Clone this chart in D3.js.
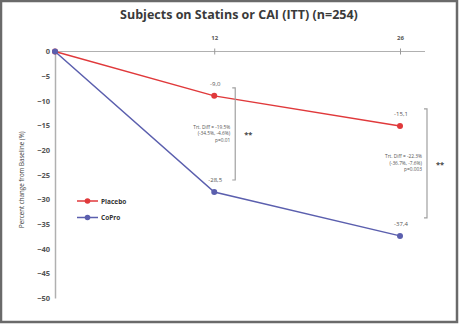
<!DOCTYPE html>
<html lang="en">
  <head>
    <meta charset="UTF-8" />
    <title>Subjects on Statins or CAI (ITT) (n=254)</title>
    <script src="https://d3js.org/d3.v7.min.js"></script>
    <style>
      body { margin: 0; background: #fff; }
      text { font-family: "Open Sans", "DejaVu Sans", sans-serif; }
    </style>
  </head>
  <body>
    <svg id="chart" width="460" height="326"></svg>
    <script>
      // Data
      const weeks = [0, 12, 26];
      const placebo = [0, -9.0, -15.1];
      const copro = [0, -28.5, -37.4];
      const yTicks = [0, -5, -10, -15, -20, -25, -30, -35, -40, -45, -50];
      const diffNotes = [
        ["Trt. Diff = -19.5%", "(-34.5%, -4.6%)", "p=0.01"],
        ["Trt. Diff = -22.3%", "(-36.7%, -7.6%)", "p=0.003"],
      ];

      const series = [
        { name: "Placebo", values: placebo, color: "#e0393b" },
        { name: "CoPro", values: copro, color: "#5b5fae" },
      ];

      const svg = d3.select("#chart");

      // frame
      svg.append("rect")
        .attr("x", 1).attr("y", 1)
        .attr("width", 456).attr("height", 321)
        .attr("fill", "#fff")
        .attr("stroke", "#6a6a6a")
        .attr("stroke-width", 2.5);

      const x = d3.scaleLinear().domain([0, 26]).range([55, 400]);
      const y = d3.scaleLinear().domain([0, -50]).range([51.5, 298]);

      // title
      svg.append("text")
        .attr("x", 239).attr("y", 19)
        .attr("text-anchor", "middle")
        .attr("font-size", 12.5)
        .attr("font-weight", "bold")
        .attr("fill", "#3a3a3a")
        .text("Subjects on Statins or CAI (ITT) (n=254)");

      // y axis
      const yAxis = svg.append("g")
        .attr("transform", `translate(${x(0)},0)`)
        .call(d3.axisLeft(y).tickValues(yTicks).tickSize(0).tickPadding(5));
      yAxis.select(".domain").attr("stroke", "#b0b0b0").attr("stroke-width", 1.5);
      yAxis.selectAll("text")
        .attr("font-size", 7.5)
        .attr("font-weight", "bold")
        .attr("fill", "#555");

      // x axis along the top at y=0
      const xAxis = svg.append("g")
        .attr("transform", `translate(0,${y(0)})`)
        .call(d3.axisTop(x).tickValues([12, 26]).tickSize(3).tickPadding(9).tickSizeOuter(0));
      xAxis.select(".domain").attr("d", `M${x(0)},0H425`).attr("stroke", "#b0b0b0");
      xAxis.selectAll(".tick line").attr("y2", 3).attr("y1", -3).attr("stroke", "#999");
      xAxis.selectAll("text")
        .attr("font-size", 6)
        .attr("font-weight", "bold")
        .attr("fill", "#555");

      // y axis title
      svg.append("text")
        .attr("transform", `translate(24,${y(-26)}) rotate(-90)`)
        .attr("text-anchor", "middle")
        .attr("font-size", 6.2)
        .attr("fill", "#444")
        .text("Percent change  from Baseline (%)");

      // lines and markers
      const line = d3.line()
        .x((d, i) => x(weeks[i]))
        .y((d) => y(d));

      series.forEach((s) => {
        svg.append("path")
          .datum(s.values)
          .attr("fill", "none")
          .attr("stroke", s.color)
          .attr("stroke-width", 1.5)
          .attr("d", line);
        svg.selectAll(null)
          .data(s.values)
          .enter()
          .append("circle")
          .attr("cx", (d, i) => x(weeks[i]))
          .attr("cy", (d) => y(d))
          .attr("r", 3)
          .attr("fill", s.color);
        // value labels
        svg.selectAll(null)
          .data(s.values.slice(1))
          .enter()
          .append("text")
          .attr("x", (d, i) => x(weeks[i + 1]) + 1)
          .attr("y", (d) => y(d) - 10)
          .attr("text-anchor", "middle")
          .attr("font-size", 6)
          .attr("fill", "#555")
          .text((d) => d.toFixed(1).replace(".", ","));
      });

      // brackets with treatment difference notes
      const brackets = [
        { bx: x(12) + 21, top: y(placebo[1]) - 8, bottom: y(copro[1]) - 12, note: diffNotes[0] },
        { bx: x(26) + 27, top: y(placebo[2]) - 17, bottom: y(copro[2]) - 18, note: diffNotes[1] },
      ];
      brackets.forEach((b) => {
        svg.append("path")
          .attr("d", `M${b.bx - 3},${b.top}H${b.bx}V${b.bottom}H${b.bx - 3}`)
          .attr("fill", "none")
          .attr("stroke", "#a0a0a0")
          .attr("stroke-width", 1.2);
        const mid = (b.top + b.bottom) / 2;
        b.note.forEach((t, i) => {
          svg.append("text")
            .attr("x", b.bx - 5)
            .attr("y", mid - 5 + i * 6.3)
            .attr("text-anchor", "end")
            .attr("font-size", 4.8)
            .attr("fill", "#555")
            .text(t);
        });
        svg.append("text")
          .attr("x", b.bx + 9)
          .attr("y", mid + 3.5)
          .attr("font-size", 7.5)
          .attr("font-weight", "bold")
          .attr("fill", "#444")
          .text("**");
      });

      // legend
      const legend = svg.append("g").attr("transform", "translate(77,201)");
      series.forEach((s, i) => {
        const g = legend.append("g").attr("transform", `translate(0,${i * 16.5})`);
        g.append("line").attr("x1", 0).attr("x2", 21)
          .attr("stroke", s.color).attr("stroke-width", 1.5);
        g.append("circle").attr("cx", 10.5).attr("r", 2.8).attr("fill", s.color);
        g.append("text")
          .attr("x", 24).attr("y", 2.5)
          .attr("font-size", 6.5)
          .attr("font-weight", "bold")
          .attr("fill", "#333")
          .text(s.name);
      });
    </script>
  </body>
</html>
